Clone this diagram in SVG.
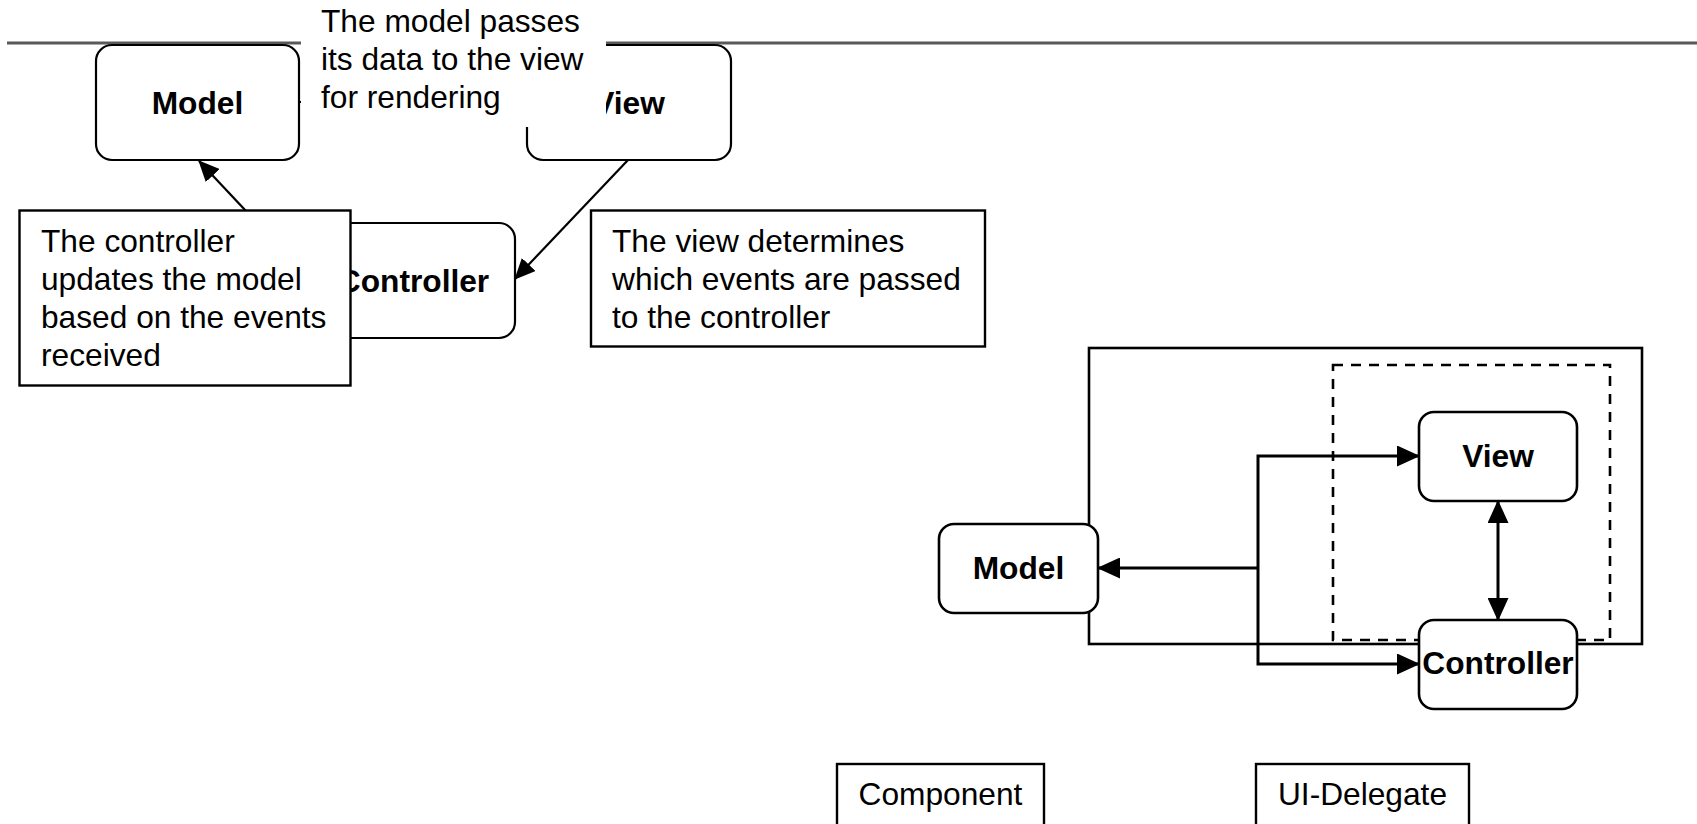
<svg xmlns="http://www.w3.org/2000/svg" width="1697" height="824" viewBox="0 0 1697 824">
<style>
.box{fill:#fff;stroke:#000;stroke-width:2.2}
.box3{fill:#fff;stroke:#000;stroke-width:2.6}
.plain{fill:#fff;stroke:#000;stroke-width:2.4}
.b{font-family:"Liberation Sans",Arial,sans-serif;font-weight:bold;font-size:31.7px;fill:#000;text-anchor:middle}
.t{font-family:"Liberation Sans",Arial,sans-serif;font-size:31.7px;fill:#000}
.c{stroke:#000;fill:none;stroke-width:2.2}
.c3{stroke:#000;fill:none;stroke-width:3}
</style>
<defs>
<marker id="ah" markerUnits="userSpaceOnUse" markerWidth="23" markerHeight="21" refX="22" refY="10.5" orient="auto-start-reverse"><path d="M0,0 L23,10.5 L0,21 z" fill="#000"/></marker>
<marker id="ahs" markerUnits="userSpaceOnUse" markerWidth="21" markerHeight="19" refX="20" refY="9.5" orient="auto"><path d="M0,0 L21,9.5 L0,19 z" fill="#000"/></marker>
</defs>
<rect width="1697" height="824" fill="#fff"/>
<line x1="7" y1="43" x2="1697" y2="43" stroke="#595959" stroke-width="3.2"/>

<g id="model1"><rect class="box" x="96" y="45" width="203" height="115" rx="16"/><text class="b" x="197.5" y="113.5">Model</text></g>
<g id="view1"><rect class="box" x="527" y="45" width="204" height="115" rx="16"/><text class="b" x="629" y="113.5">View</text></g>
<g id="controller1"><rect class="box" x="312" y="223" width="203" height="115" rx="16"/><text class="b" x="413.5" y="291.5">Controller</text></g>

<g id="outer"><rect x="1089" y="348" width="553" height="296" fill="none" stroke="#000" stroke-width="2.6"/></g>
<g id="dashed"><rect x="1333" y="365" width="277" height="275" fill="none" stroke="#000" stroke-width="2.6" stroke-dasharray="10 8"/></g>
<g id="model2"><rect class="box3" x="939" y="524" width="159" height="89" rx="15"/><text class="b" x="1018.5" y="579">Model</text></g>
<g id="view2"><rect class="box3" x="1419" y="412" width="158" height="89" rx="15"/><text class="b" x="1498" y="467">View</text></g>
<g id="controller2"><rect class="box3" x="1419" y="620" width="158" height="89" rx="15"/><text class="b" x="1498" y="674">Controller</text></g>

<g id="connectors">
<line class="c" x1="299" y1="102" x2="527" y2="102" marker-end="url(#ahs)"/>
<line class="c" x1="262" y1="228" x2="199" y2="161" marker-end="url(#ahs)"/>
<line class="c" x1="628" y1="160" x2="515" y2="279" marker-end="url(#ahs)"/>
<path class="c3" d="M1258 568 H1098" marker-end="url(#ah)"/>
<path class="c3" d="M1258 568 V456 H1419" marker-end="url(#ah)"/>
<path class="c3" d="M1258 568 V664 H1419" marker-end="url(#ah)"/>
<line class="c3" x1="1498" y1="501" x2="1498" y2="620" marker-start="url(#ah)" marker-end="url(#ah)"/>
</g>

<g id="label-model-view">
<rect x="301" y="0" width="305" height="127" fill="#fff"/>
<text class="t" x="321" y="31.5">The model passes</text>
<text class="t" x="321" y="69.5">its data to the view</text>
<text class="t" x="321" y="107.5">for rendering</text>
</g>
<g id="note-controller">
<rect class="plain" x="19.5" y="210.5" width="331" height="175"/>
<text class="t" x="41" y="251.5">The controller</text>
<text class="t" x="41" y="289.5">updates the model</text>
<text class="t" x="41" y="327.5">based on the events</text>
<text class="t" x="41" y="365.5">received</text>
</g>
<g id="note-view">
<rect class="plain" x="591" y="210.5" width="394" height="136"/>
<text class="t" x="612" y="251.5">The view determines</text>
<text class="t" x="612" y="289.5">which events are passed</text>
<text class="t" x="612" y="327.5">to the controller</text>
</g>
<g id="component"><rect class="plain" x="837" y="764" width="207" height="80"/><text class="t" x="940.5" y="805" text-anchor="middle">Component</text></g>
<g id="ui-delegate"><rect class="plain" x="1256" y="764" width="213" height="80"/><text class="t" x="1362.5" y="805" text-anchor="middle">UI-Delegate</text></g>
</svg>
